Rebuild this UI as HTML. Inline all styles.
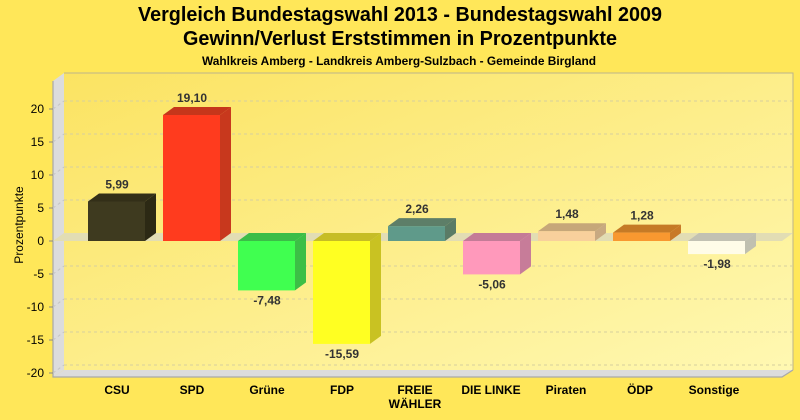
<!DOCTYPE html>
<html><head><meta charset="utf-8"><style>
html,body{margin:0;padding:0;background:#ffe759;}
svg{display:block;}
text{font-family:"Liberation Sans",Arial,sans-serif;}
</style></head><body>
<svg width="800" height="420" viewBox="0 0 800 420" xmlns="http://www.w3.org/2000/svg">
<defs>
<linearGradient id="bg" x1="0" y1="0" x2="1" y2="1">
<stop offset="0" stop-color="#fbe362"/>
<stop offset="1" stop-color="#fff8b2"/>
</linearGradient>
</defs>
<rect width="800" height="420" fill="#ffe759"/>
<!-- titles -->
<text x="400" y="21" text-anchor="middle" font-size="20" font-weight="bold" fill="#000" textLength="524" lengthAdjust="spacingAndGlyphs">Vergleich Bundestagswahl 2013 - Bundestagswahl 2009</text>
<text x="400" y="45" text-anchor="middle" font-size="20" font-weight="bold" fill="#000" textLength="434" lengthAdjust="spacingAndGlyphs">Gewinn/Verlust Erststimmen in Prozentpunkte</text>
<text x="399" y="65" text-anchor="middle" font-size="12" font-weight="bold" fill="#000" textLength="394" lengthAdjust="spacingAndGlyphs">Wahlkreis Amberg - Landkreis Amberg-Sulzbach - Gemeinde Birgland</text>

<!-- back wall -->
<rect x="64" y="73" width="729" height="297" fill="url(#bg)"/>
<polyline points="64,73 793,73 793,370" fill="none" stroke="#bcb48a" stroke-width="1"/>
<!-- left wall -->
<polygon points="53,81 64,73 64,370 53,377" fill="#dcdcdc"/>
<!-- floor -->
<polygon points="53,377 64,370 793,370 782,377" fill="#dcdcdc"/>
<polyline points="53,81 53,377 782,377 793,370" fill="none" stroke="#a8a8a8" stroke-width="1.2"/>

<!-- gridlines -->
<g stroke="#d6cf9e" stroke-width="1" stroke-dasharray="3,3" fill="none">
<path d="M64 101H793 M64 134H793 M64 167H793 M64 200H793 M64 266H793 M64 299H793 M64 332H793 M64 365H793"/>
<path d="M53 109L64 101 M53 142L64 134 M53 175L64 167 M53 208L64 200 M53 274L64 266 M53 307L64 299 M53 340L64 332 M53 373L64 365" stroke="#c4c4c4"/>
</g>
<!-- zero plane -->
<polygon points="53,241 64,233 793,233 782,241" fill="#e2ddb4"/>

<!-- ticks -->
<g stroke="#888" stroke-width="1">
<path d="M49 109H53 M49 142H53 M49 175H53 M49 208H53 M49 241H53 M49 274H53 M49 307H53 M49 340H53 M49 373H53"/>
</g>
<g font-size="12" fill="#000" text-anchor="end">
<text x="44" y="113">20</text>
<text x="44" y="146">15</text>
<text x="44" y="179">10</text>
<text x="44" y="212">5</text>
<text x="44" y="245">0</text>
<text x="44" y="278">-5</text>
<text x="44" y="311">-10</text>
<text x="44" y="344">-15</text>
<text x="44" y="377">-20</text>
</g>
<text transform="translate(23,225) rotate(-90)" text-anchor="middle" font-size="12" fill="#000">Prozentpunkte</text>

<!-- bars -->
<!-- CSU -->
<g>
<polygon points="88,201.5 99,193.5 156,193.5 145,201.5" fill="#332f18"/>
<polygon points="145,201.5 156,193.5 156,233 145,241" fill="#2c2914"/>
<rect x="88" y="201.5" width="57" height="39.5" fill="#3e3a1f"/>
</g>
<!-- SPD -->
<g>
<polygon points="163,115 174,107 231,107 220,115" fill="#c5361b"/>
<polygon points="220,115 231,107 231,233 220,241" fill="#c8381d"/>
<rect x="163" y="115" width="57" height="126" fill="#ff3b1e"/>
</g>
<!-- Grüne -->
<g>
<polygon points="238,241 249,233 306,233 295,241" fill="#3bbd48"/>
<polygon points="295,241 306,233 306,282.4 295,290.4" fill="#3cbf46"/>
<rect x="238" y="241" width="57" height="49.4" fill="#40ff50"/>
</g>
<!-- FDP -->
<g>
<polygon points="313,241 324,233 381,233 370,241" fill="#c6bd25"/>
<polygon points="370,241 381,233 381,335.9 370,343.9" fill="#c9c222"/>
<rect x="313" y="241" width="57" height="102.9" fill="#ffff22"/>
</g>
<!-- FREIE WÄHLER -->
<g>
<polygon points="388,226.1 399,218.1 456,218.1 445,226.1" fill="#5d7e68"/>
<polygon points="445,226.1 456,218.1 456,233 445,241" fill="#5a7b66"/>
<rect x="388" y="226.1" width="57" height="14.9" fill="#5f9a8a"/>
</g>
<!-- DIE LINKE -->
<g>
<polygon points="463,241 474,233 531,233 520,241" fill="#c47b97"/>
<polygon points="520,241 531,233 531,266.4 520,274.4" fill="#c77c99"/>
<rect x="463" y="241" width="57" height="33.4" fill="#ff99bb"/>
</g>
<!-- Piraten -->
<g>
<polygon points="538,231.2 549,223.2 606,223.2 595,231.2" fill="#c6a779"/>
<polygon points="595,231.2 606,223.2 606,233 595,241" fill="#c8a981"/>
<rect x="538" y="231.2" width="57" height="9.8" fill="#f8d09c"/>
</g>
<!-- ÖDP -->
<g>
<polygon points="613,232.6 624,224.6 681,224.6 670,232.6" fill="#c57a26"/>
<polygon points="670,232.6 681,224.6 681,233 670,241" fill="#c87a28"/>
<rect x="613" y="232.6" width="57" height="8.4" fill="#f89830"/>
</g>
<!-- Sonstige -->
<g>
<polygon points="688,241 699,233 756,233 745,241" fill="#c2c1b3"/>
<polygon points="745,241 756,233 756,246.1 745,254.1" fill="#c0c0b0"/>
<rect x="688" y="241" width="57" height="13.1" fill="#fffce8"/>
</g>

<!-- value labels -->
<g font-size="12" font-weight="bold" fill="#333" text-anchor="middle">
<text x="117" y="188.5">5,99</text>
<text x="192" y="102">19,10</text>
<text x="267" y="304.4">-7,48</text>
<text x="342" y="358">-15,59</text>
<text x="417" y="213">2,26</text>
<text x="492" y="288.4">-5,06</text>
<text x="567" y="218.2">1,48</text>
<text x="642" y="219.6">1,28</text>
<text x="717" y="268">-1,98</text>
</g>

<!-- category labels -->
<g font-size="12" font-weight="bold" fill="#000" text-anchor="middle">
<text x="117" y="394">CSU</text>
<text x="192" y="394">SPD</text>
<text x="267" y="394">Grüne</text>
<text x="342" y="394">FDP</text>
<text x="415" y="394">FREIE</text>
<text x="415" y="408">WÄHLER</text>
<text x="491" y="394">DIE LINKE</text>
<text x="566" y="394">Piraten</text>
<text x="640" y="394">ÖDP</text>
<text x="714" y="394">Sonstige</text>
</g>
</svg>
</body></html>
